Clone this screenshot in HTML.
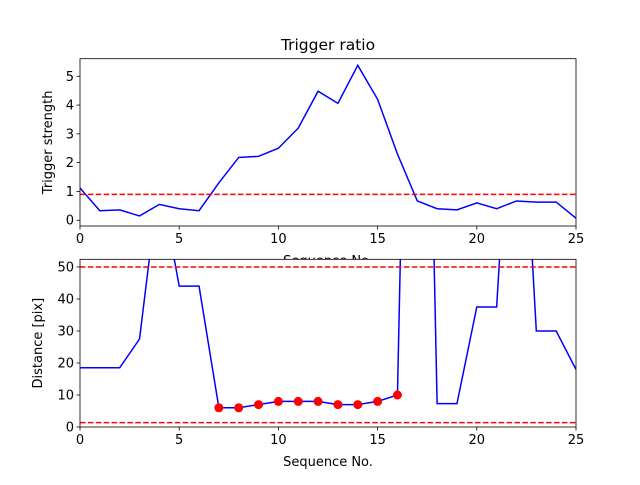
<!DOCTYPE html>
<html><head><meta charset="utf-8"><style>body{margin:0;background:#fff}svg{font-family:"DejaVu Sans","Liberation Sans",sans-serif}</style></head>
<body>
<svg id="c" width="640" height="480" xmlns="http://www.w3.org/2000/svg"></svg>
<script>
const seqX = [0,1,2,3,4,5,6,7,8,9,10,11,12,13,14,15,16,17,18,19,20,21,22,23,24,25];
const triggerStrength = [1.12,0.33,0.36,0.15,0.55,0.40,0.33,1.3,2.18,2.22,2.5,3.2,4.48,4.06,5.38,4.2,2.3,0.67,0.4,0.36,0.6,0.4,0.67,0.63,0.63,0.07];
const triggerThreshold = 0.9;
const distance = [18.5,18.5,18.5,27.5,78,44,44,6,6,7,8,8,8,7,7,8,10,300,7.3,7.3,37.5,37.5,140,30,30,18];
const markedIdx = [7,8,9,10,11,12,13,14,15,16];
const distThresholds = [50,1.35];
const xTicks = [0,5,10,15,20,25];
const topYTicks = [0,1,2,3,4,5];
const botYTicks = [0,10,20,30,40,50];

const NS="http://www.w3.org/2000/svg", svg=document.getElementById('c');
function el(t,a,p){const e=document.createElementNS(NS,t);for(const k in a)e.setAttribute(k,a[k]);(p||svg).appendChild(e);return e;}
function panel(name,top,bottom,ymin,ymax,yT,ys,thr,ylabel,ylx,clipId,markers,title){
  const L=80,R=576;
  const g=el('g',{});  
  const sx=v=>L+(v-0)/(25-0)*(R-L), sy=v=>bottom-(v-ymin)/(ymax-ymin)*(bottom-top);
  el('rect',{x:L,y:top,width:R-L,height:bottom-top,fill:'#fff'},g);
  const cp=el('clipPath',{id:clipId},g); el('rect',{x:L,y:top,width:R-L,height:bottom-top},cp);
  const pts=seqX.map((x,i)=>sx(x)+','+sy(ys[i])).join(' ');
  const ln=el('polyline',{points:pts,fill:'none',stroke:'#0000ff','stroke-width':1.5,'clip-path':`url(#${clipId})`},g);
   
  thr.forEach(t=>{const d=el('line',{x1:L,x2:R,y1:sy(t),y2:sy(t),stroke:'#ff0000','stroke-width':1.5,'stroke-dasharray':'5.5,2.4','clip-path':`url(#${clipId})`},g);
     });
  if(markers) markers.forEach(i=>{const m=el('circle',{cx:sx(seqX[i]),cy:sy(ys[i]),r:4.5,fill:'#ff0000'},g);
     });
  el('rect',{x:L,y:top,width:R-L,height:bottom-top,fill:'none',stroke:'#000','stroke-width':0.8},g);
  xTicks.forEach(t=>{const x=sx(t);el('line',{x1:x,x2:x,y1:bottom,y2:bottom+3.5,stroke:'#000','stroke-width':0.8},g);
    const tx=el('text',{x:x,y:bottom+17,'font-size':13,'text-anchor':'middle'},g);tx.textContent=t;
     });
  yT.forEach(t=>{const y=sy(t);el('line',{x1:L-3.5,x2:L,y1:y,y2:y,stroke:'#000','stroke-width':0.8},g);
    const tx=el('text',{x:L-6,y:y+4.5,'font-size':13,'text-anchor':'end'},g);tx.textContent=t;
     });
  const yl=el('text',{x:0,y:0,'font-size':13,'text-anchor':'middle',transform:`translate(${ylx},${(top+bottom)/2}) rotate(-90)`},g);yl.textContent=ylabel;
   
  const xl=el('text',{x:(L+R)/2,y:bottom+39,'font-size':13,'text-anchor':'middle'},g);xl.textContent='Sequence No.';
   
  if(title){const tt=el('text',{x:(L+R)/2,y:50,'font-size':15.5,'text-anchor':'middle'},g);tt.textContent=title;
     }
}
panel('top-panel',58.7,226,-0.2,5.61,topYTicks,triggerStrength,[triggerThreshold],'Trigger strength',52,'ct',null,'Trigger ratio');
panel('bottom-panel',259.3,427,0,52.4,botYTicks,distance,distThresholds,'Distance [pix]',42,'cb',markedIdx,null);
</script>
</body></html>
